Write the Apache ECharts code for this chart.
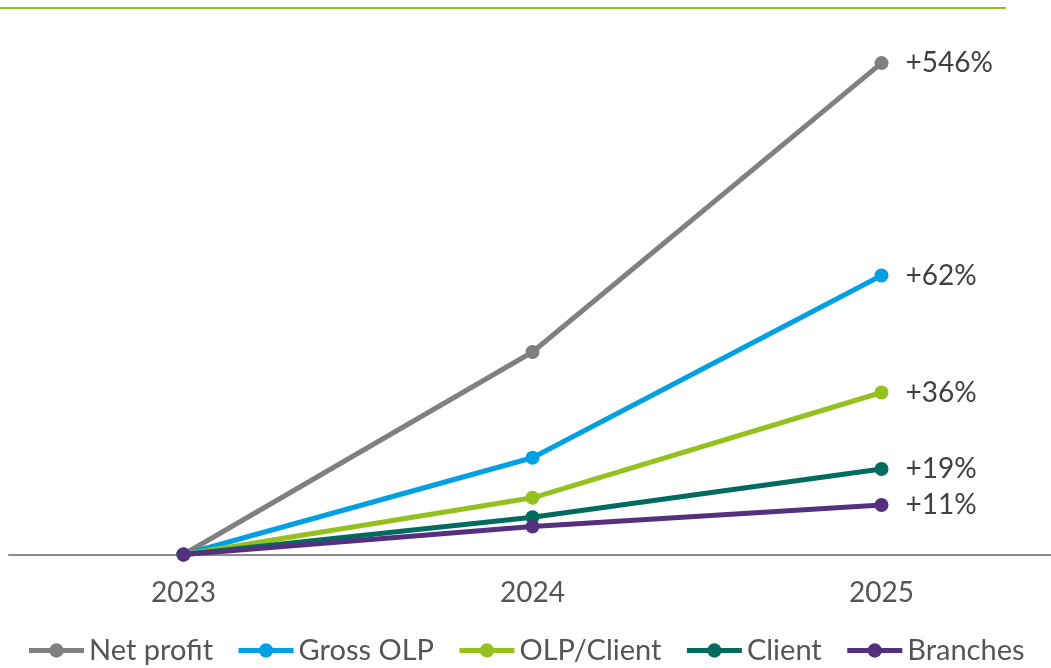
<!DOCTYPE html>
<html>
<head>
<meta charset="utf-8">
<script src="https://cdn.jsdelivr.net/npm/echarts@6/dist/echarts.min.js"></script>
<style>
  html, body { margin: 0; padding: 0; background: #ffffff; }
  #chart { width: 1051px; height: 668px; }
</style>
</head>
<body>
<div id="chart"></div>
<script>
// Growth since 2023, in percent
const years = ['2023', '2024', '2025'];
const seriesNames = ['Net profit', 'Gross OLP', 'OLP/Client', 'Client', 'Branches'];
const netProfit = [0, 225, 546];
const grossOLP = [0, 21.5, 62];
const olpClient = [0, 12.6, 36];
const clientGrowth = [0, 8.3, 19];
const branches = [0, 6.2, 11];

const seriesValues = [netProfit, grossOLP, olpClient, clientGrowth, branches];
const colors = ['#808080', '#00A0E3', '#95C11F', '#006B5F', '#55307F'];
// Net profit grows far faster, so it sits on its own (hidden) scale
const axisIndex = [1, 0, 0, 0, 0];

const FONT = 'Lato, "Open Sans", sans-serif';

const chart = echarts.init(document.getElementById('chart'), null, { renderer: 'canvas' });

const series = seriesNames.map((name, i) => ({
  name: name,
  type: 'line',
  yAxisIndex: axisIndex[i],
  data: seriesValues[i],
  symbol: 'circle',
  symbolSize: 14,
  clip: false,
  z: 2 + i,
  lineStyle: { width: 5, color: colors[i] },
  itemStyle: { color: colors[i] },
  label: {
    show: true,
    position: 'right',
    distance: 17,
    fontFamily: FONT,
    fontSize: 28,
    color: '#404040',
    formatter: p => p.dataIndex === seriesValues[i].length - 1 ? '+' + p.value + '%' : ''
  },
  emphasis: { disabled: true }
}));

chart.setOption({
  animation: false,
  backgroundColor: '#ffffff',
  color: colors,
  graphic: [{
    type: 'line',
    shape: { x1: 0, y1: 8, x2: 1006, y2: 8 },
    style: { stroke: '#8DC21F', lineWidth: 2 }
  }],
  grid: {
    left: 9, width: 1047, top: 59.5, bottom: 113.5,
    containLabel: false, outerBoundsMode: 'none'
  },
  legend: {
    data: seriesNames,
    top: 631,
    left: 'center',
    itemWidth: 55,
    itemHeight: 18,
    itemGap: 23,
    lineStyle: { width: 5 },
    textStyle: { fontFamily: FONT, fontSize: 29, color: '#555555' }
  },
  xAxis: {
    type: 'category',
    data: years,
    boundaryGap: true,
    axisLine: { show: true, lineStyle: { color: '#8c8c8c', width: 2 } },
    axisTick: { show: false },
    axisLabel: { fontFamily: FONT, fontSize: 28, color: '#555555', margin: 24 },
    splitLine: { show: false }
  },
  yAxis: [
    { type: 'value', min: 0, max: 110, show: false, splitLine: { show: false } },
    { type: 'value', min: 0, max: 550, show: false, splitLine: { show: false } }
  ],
  series: series
});
</script>
</body>
</html>
